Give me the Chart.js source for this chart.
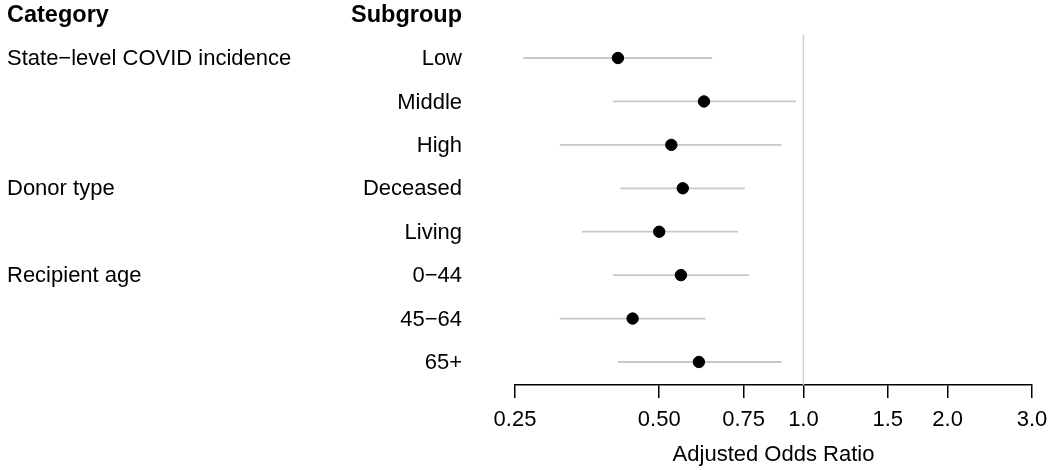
<!DOCTYPE html>
<html>
<head>
<meta charset="utf-8">
<script src="https://cdn.jsdelivr.net/npm/chart.js@4"></script>
<style>
  body { margin: 0; background: #fff; }
  #wrap { width: 1050px; height: 470px; }
</style>
</head>
<body>
<div id="wrap"><canvas id="forest"></canvas></div>
<script>
document.addEventListener("DOMContentLoaded", function() {
    // data
    const categories = ["State\u2212level COVID incidence", "", "", "Donor type", "", "Recipient age", "", ""];
    const subgroups = ["Low", "Middle", "High", "Deceased", "Living", "0\u221244", "45\u221264", "65+"];
    const oddsRatio = [0.41, 0.62, 0.53, 0.56, 0.50, 0.555, 0.44, 0.605];
    const lower = [0.26, 0.40, 0.31, 0.415, 0.345, 0.40, 0.31, 0.41];
    const upper = [0.645, 0.965, 0.90, 0.755, 0.73, 0.77, 0.625, 0.90];
    const xTicks = [0.25, 0.5, 0.75, 1.0, 1.5, 2.0, 3.0];
    const xTickLabels = ["0.25", "0.50", "0.75", "1.0", "1.5", "2.0", "3.0"];

    const FONT = "Arial, 'Liberation Sans', sans-serif";

    const datasets = [];
    // confidence interval segments
    subgroups.forEach(function(s, i) {
        datasets.push({
            type: "line",
            data: [{x: lower[i], y: i}, {x: upper[i], y: i}],
            borderColor: "#c8c8c8",
            borderWidth: 1.8,
            pointRadius: 0,
            fill: false,
            order: 2
        });
    });
    // point estimates
    datasets.push({
        type: "scatter",
        data: oddsRatio.map(function(v, i) { return {x: v, y: i}; }),
        backgroundColor: "#000",
        borderColor: "#000",
        pointRadius: 5.7,
        order: 1
    });

    const sidePlugin = {
        id: "sideText",
        beforeDatasetsDraw: function(chart) {
            const ctx = chart.ctx;
            const xs = chart.scales.x;
            const area = chart.chartArea;
            // reference line at OR = 1
            const x1 = xs.getPixelForValue(1);
            ctx.save();
            ctx.strokeStyle = "#cfcfcf";
            ctx.lineWidth = 1.5;
            ctx.beginPath();
            ctx.moveTo(x1, area.top);
            ctx.lineTo(x1, area.bottom);
            ctx.stroke();
            ctx.restore();
        },
        afterDraw: function(chart) {
            const ctx = chart.ctx;
            const ys = chart.scales.y;
            ctx.save();
            ctx.fillStyle = "#000";
            ctx.textBaseline = "middle";
            ctx.font = "bold 23.5px " + FONT;
            ctx.textAlign = "left";
            ctx.fillText("Category", 7, 16);
            ctx.textAlign = "right";
            ctx.fillText("Subgroup", 462, 16);
            ctx.font = "22px " + FONT;
            subgroups.forEach(function(s, i) {
                const y = ys.getPixelForValue(i) + 1;
                ctx.textAlign = "left";
                ctx.fillText(categories[i], 7, y);
                ctx.textAlign = "right";
                ctx.fillText(s, 462, y);
            });
            ctx.restore();
        }
    };

    new Chart(document.getElementById("forest"), {
        data: { datasets: datasets },
        plugins: [sidePlugin],
        options: {
            responsive: true,
            maintainAspectRatio: false,
            animation: false,
            layout: { padding: { left: 515, right: 18, top: 35, bottom: 0 } },
            plugins: {
                legend: { display: false },
                tooltip: { enabled: false }
            },
            scales: {
                x: {
                    type: "logarithmic",
                    min: 0.25,
                    max: 3.0,
                    afterBuildTicks: function(scale) {
                        scale.ticks = xTicks.map(function(v) { return {value: v}; });
                    },
                    afterFit: function(scale) {
                        scale.height = 85;
                        scale.paddingLeft = 0;
                        scale.paddingRight = 0;
                    },
                    ticks: {
                        color: "#000",
                        font: { family: FONT, size: 22 },
                        padding: 9,
                        autoSkip: false,
                        maxRotation: 0,
                        callback: function(value) {
                            const k = xTicks.indexOf(value);
                            return k >= 0 ? xTickLabels[k] : "";
                        }
                    },
                    grid: {
                        drawOnChartArea: false,
                        drawTicks: true,
                        tickLength: 13,
                        tickColor: "#000",
                        lineWidth: 1.5
                    },
                    border: { display: true, color: "#000", width: 1.5 },
                    title: {
                        display: true,
                        text: "Adjusted Odds Ratio",
                        color: "#000",
                        font: { family: FONT, size: 22 },
                        padding: { top: 0, bottom: 2 }
                    }
                },
                y: {
                    type: "linear",
                    display: false,
                    reverse: true,
                    min: -0.53,
                    max: 7.53
                }
            }
        }
    });
});
</script>
</body>
</html>
